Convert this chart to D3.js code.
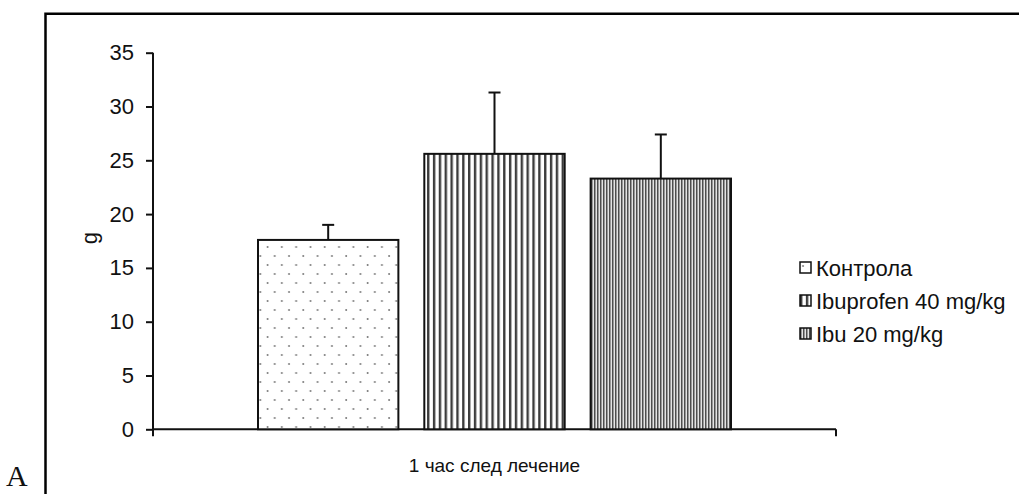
<!DOCTYPE html>
<html>
<head>
<meta charset="utf-8">
<script src="https://cdn.jsdelivr.net/npm/d3@7"></script>
<style>
  html, body { margin: 0; padding: 0; background: #fff; }
  svg text { font-family: "Liberation Sans", Arial, sans-serif; fill: #111; }
</style>
</head>
<body>
<svg id="chart" width="1019" height="494"></svg>
<script>
// Chart data
const categories = ["1 час след лечение"];
const seriesNames = ["Контрола", "Ibuprofen 40 mg/kg", "Ibu 20 mg/kg"];
const means = [17.6, 25.6, 23.3];
const errors = [1.4, 5.7, 4.1];
const yTicks = [0, 5, 10, 15, 20, 25, 30, 35];
const yLabel = "g";
const panelLetter = "A";

const svg = d3.select("#chart");
const defs = svg.append("defs");

// Fill patterns for the three series
function dotsPattern(id) {
  const p = defs.append("pattern").attr("id", id)
    .attr("patternUnits", "userSpaceOnUse").attr("width", 14.3).attr("height", 18);
  p.append("rect").attr("width", 14.3).attr("height", 18).attr("fill", "#fff");
  p.append("circle").attr("cx", 3).attr("cy", 4).attr("r", 1).attr("fill", "#7a7a7a");
  p.append("circle").attr("cx", 10.15).attr("cy", 13).attr("r", 1).attr("fill", "#7a7a7a");
}
function stripePattern(id, period, lineW, lineColor, bg) {
  const p = defs.append("pattern").attr("id", id)
    .attr("patternUnits", "userSpaceOnUse").attr("width", period).attr("height", 10);
  p.append("rect").attr("width", period).attr("height", 10).attr("fill", bg);
  p.append("rect").attr("x", 0).attr("width", lineW).attr("height", 10).attr("fill", lineColor);
}
dotsPattern("fill0");
stripePattern("fill1", 5.85, 2.4, "#3c3c3c", "#ffffff");
stripePattern("fill2", 3.0, 1.5, "#4e4e4e", "#e4e4e4");
const fills = ["url(#fill0)", "url(#fill1)", "url(#fill2)"];

// Outer frame
svg.append("path")
  .attr("d", "M45.5,494 L45.5,13.7 L1019,13.7")
  .attr("fill", "none").attr("stroke", "#000").attr("stroke-width", 2.5);

// Scales
const plotLeft = 153, plotRight = 836, plotTop = 52.7, plotBottom = 429.3;
const y = d3.scaleLinear().domain([0, 35]).range([plotBottom, plotTop]);
const x0 = d3.scaleBand().domain(categories).range([plotLeft, plotRight])
  .paddingInner(0).paddingOuter(0.222);
const x1 = d3.scaleBand().domain(seriesNames).range([0, x0.bandwidth()])
  .paddingInner(0.156).paddingOuter(0);

// Y axis
const yAxis = d3.axisLeft(y).tickValues(yTicks).tickSize(7).tickPadding(12)
  .tickFormat(d3.format("d"));
const gy = svg.append("g").attr("transform", `translate(${plotLeft},0)`).call(yAxis);
gy.select(".domain").remove();
gy.selectAll(".tick line").attr("stroke", "#111").attr("stroke-width", 2);
gy.selectAll(".tick text").attr("font-size", 22).attr("fill", "#111")
  .style("font-family", "'Liberation Sans', Arial, sans-serif");
svg.append("line")
  .attr("x1", plotLeft).attr("x2", plotLeft)
  .attr("y1", plotTop).attr("y2", plotBottom + 7)
  .attr("stroke", "#111").attr("stroke-width", 2);

// X axis (category axis)
svg.append("line")
  .attr("x1", plotLeft).attr("x2", plotRight)
  .attr("y1", plotBottom).attr("y2", plotBottom)
  .attr("stroke", "#111").attr("stroke-width", 2);
svg.append("line")
  .attr("x1", plotRight).attr("x2", plotRight)
  .attr("y1", plotBottom).attr("y2", plotBottom + 7)
  .attr("stroke", "#111").attr("stroke-width", 2);
svg.selectAll(".cat-label").data(categories).enter().append("text")
  .attr("class", "cat-label")
  .attr("x", d => x0(d) + x0.bandwidth() / 2)
  .attr("y", 472)
  .attr("text-anchor", "middle")
  .attr("font-size", 19)
  .text(d => d);

// Y axis title
svg.append("text")
  .attr("transform", `translate(97,238) rotate(-90)`)
  .attr("text-anchor", "middle")
  .attr("font-size", 22)
  .text(yLabel);

// Bars
const rows = seriesNames.map((s, i) => ({ name: s, mean: means[i], err: errors[i], fill: fills[i], cat: categories[0] }));
const gBars = svg.append("g");
gBars.selectAll("rect").data(rows).enter().append("rect")
  .attr("x", d => x0(d.cat) + x1(d.name))
  .attr("y", d => y(d.mean))
  .attr("width", x1.bandwidth())
  .attr("height", d => y(0) - y(d.mean))
  .attr("fill", d => d.fill)
  .attr("stroke", "#111").attr("stroke-width", 2);

// Error bars (upper only)
const gErr = svg.append("g").attr("stroke", "#111").attr("stroke-width", 2);
rows.forEach(d => {
  const cx = x0(d.cat) + x1(d.name) + x1.bandwidth() / 2;
  gErr.append("line").attr("x1", cx).attr("x2", cx)
    .attr("y1", y(d.mean)).attr("y2", y(d.mean + d.err));
  gErr.append("line").attr("x1", cx - 6).attr("x2", cx + 6)
    .attr("y1", y(d.mean + d.err)).attr("y2", y(d.mean + d.err));
});

// Legend
const legend = svg.append("g").attr("transform", "translate(800,262)");
const legendRows = legend.selectAll("g").data(rows).enter().append("g")
  .attr("transform", (d, i) => `translate(0,${i * 33})`);
legendRows.append("rect")
  .attr("x", 0).attr("y", 0).attr("width", 11).attr("height", 11)
  .attr("fill", d => d.fill).attr("stroke", "#111").attr("stroke-width", 1.5);
legendRows.append("text")
  .attr("x", 16).attr("y", 13.5)
  .attr("font-size", 22)
  .text(d => d.name);

// Panel letter
svg.append("text")
  .attr("x", 6).attr("y", 486)
  .attr("font-size", 30)
  .style("font-family", "'Liberation Serif', 'Times New Roman', serif")
  .text(panelLetter);
</script>
</body>
</html>
